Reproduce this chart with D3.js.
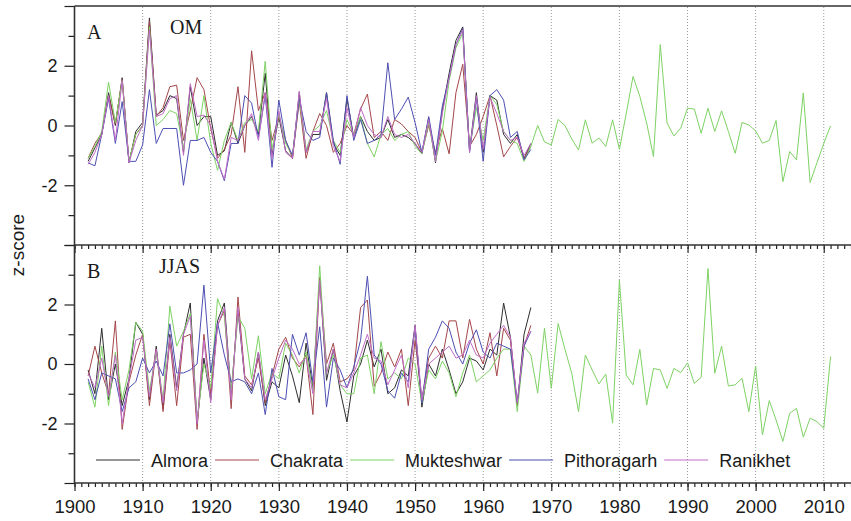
<!DOCTYPE html>
<html>
<head>
<meta charset="utf-8">
<script src="https://cdn.jsdelivr.net/npm/d3@7"></script>
<style>
  body { margin: 0; background: #fff; }
  text { font-family: Arial, "Liberation Sans", sans-serif; fill: #1a1a1a; }
  .panel-label { font-family: "Times New Roman", "Liberation Serif", serif; }
</style>
</head>
<body>
<svg id="svg1" width="851" height="521"></svg>
<script>
// station names + colours (legend order)
const stations = ['Almora', 'Chakrata', 'Mukteshwar', 'Pithoragarh', 'Ranikhet'];
const colors = ['#2e2e2e', '#a4464a', '#7ed264', '#4d4fb2', '#c06cc8'];

// years: most stations 1902-1967, Mukteshwar runs on to 2011
const years = d3.range(1902, 1968);
const mukYears = d3.range(1902, 2012);

// panel A - OM z-scores
const almoraOM = [-1.2, -0.75, -0.3, 1.1, 0.0, 1.6, -1.25, -0.2, 0.1, 3.6,
  0.35, 0.5, 1.0, 0.9, -0.9, 1.3, 0.0, 0.3, 0.3, -1.0,
  -0.85, 0.1, -0.6, 0.0, 0.3, -0.3, 1.75, -1.0, 0.3, -0.85,
  -1.1, 1.1, -0.9, -0.3, -0.3, 1.1, -0.6, -1.0, 0.9, -0.4,
  0.3, -0.2, -0.5, -0.4, 0.2, -0.4, -0.3, -0.4, -0.6, -0.95,
  0.25, -1.25, 0.5, 1.75, 2.85, 3.3, -0.85, 1.1, -0.9, 1.0,
  0.85, -0.3, -0.6, -0.3, -1.1, -0.6];
const chakrataOM = [-1.1, -0.6, -0.25, 1.0, 0.05, 1.55, -1.2, -0.3, 0.0, 3.5,
  0.3, 0.6, 1.3, 1.35, -0.5, 0.5, 1.6, 1.2, -0.1, -1.1,
  -0.8, -0.3, 1.3, -0.9, 2.5, 0.5, 1.1, -0.5, 0.3, -0.5,
  -1.1, 0.8, -1.1, -0.2, 0.4, 0.0, -0.9, -0.6, 0.0, -0.3,
  0.55, 1.05, -0.4, -0.2, -0.5, 0.2, 0.05, -0.2, -0.4, -0.9,
  0.0, -0.9, -0.1, -0.95, 1.1, 2.05, -0.7, -0.3, 0.3, 1.0,
  0.0, -1.05, -0.7, -0.4, -1.1, -0.7];
const mukteshwarOM = [-1.1, -0.7, -0.2, 1.45, 0.1, 1.5, -1.2, -0.3, 0.0, 3.3,
  0.0, 0.2, 0.5, 0.4, -0.8, 0.9, -0.5, 1.0, -0.6, -1.5,
  -0.5, 0.1, -0.5, 0.1, 0.2, -0.2, 2.15, -0.8, 0.4, -0.6,
  -1.0, 0.9, -0.8, -0.2, 0.0, 0.5, -0.5, -0.9, 0.2, -0.3,
  0.3, -0.6, -1.05, -0.3, -0.1, -0.5, -0.3, -0.2, -0.7, -0.95,
  0.1, -1.2, -0.2, 1.5, 2.6, 3.1, -0.8, 0.6, -0.5, 1.0,
  0.7, -0.2, -0.5, -0.6, -1.2, -0.7,
  0.0, -0.55, -0.65, 0.2, 0.0, -0.45, -0.82, 0.19, -0.59, -0.42,
  -0.7, 0.19, -0.8, 0.4, 1.64, 0.97, 0.08, -1.04, 2.71, 0.08,
  -0.35, -0.09, 0.58, 0.55, -0.26, 0.58, -0.2, 0.49, -0.2, -0.93,
  0.1, 0.02, -0.18, -0.59, -0.5, 0.17, -1.88, -0.87, -1.15, 1.09,
  -1.91, -1.25, -0.6, -0.01];
const pithoragarhOM = [-1.25, -1.35, -0.3, 0.9, -0.6, 0.8, -1.2, -1.2, -0.65, 1.2,
  -0.6, -0.1, -0.1, -0.1, -2.0, -0.5, -0.5, -0.4, -0.9, -1.2,
  -1.85, -0.6, -0.6, 1.0, 0.75, -0.4, 1.0, -1.4, 0.85, -0.5,
  -1.0, 0.9, -0.2, -0.5, -0.4, 1.1, -0.5, -1.3, 1.0, -0.5,
  0.2, -0.6, -0.5, -0.3, 2.1, 0.2, 0.55, 0.95, 0.1, -0.9,
  0.3, -1.0, 0.65, 1.6, 2.7, 3.25, -0.9, 0.9, -1.2, 1.0,
  1.2, 0.85, -0.4, -0.2, -1.15, -0.8];
const ranikhetOM = [-1.3, -0.9, -0.3, 1.0, -0.5, 1.5, -1.25, -0.5, 0.0, 3.2,
  0.3, 0.4, 0.9, 1.0, -1.0, 1.4, 0.3, 0.35, 0.0, -1.2,
  -1.8, -0.4, -0.5, 0.0, 0.4, -0.5, 1.1, -1.1, 0.5, -0.9,
  -1.1, 1.15, -0.9, -0.2, -0.2, 0.9, -0.7, -1.2, 0.6, -0.4,
  0.6, 0.0, -0.3, -0.4, 0.3, -0.3, -0.4, -0.3, -0.6, -0.9,
  0.2, -1.2, 0.4, 1.6, 2.7, 3.2, -0.9, 1.0, -0.8, 0.95,
  0.4, -0.2, -0.5, -0.4, -1.0, -0.6];

// panel B - JJAS z-scores
const almoraJJAS = [-0.2, -1.0, 1.2, -1.2, 0.0, -1.4, -0.5, 1.4, 1.0, -1.2,
  0.6, -1.5, 1.0, -0.8, 1.0, 2.05, -2.0, 0.2, -1.2, 1.45,
  2.05, -1.0, 1.8, -0.5, -0.9, 0.4, -1.4, -0.6, -0.8, 0.3,
  -0.4, -1.3, 0.7, -0.8, 2.9, -0.55, 0.5, -0.9, -1.95, -0.4,
  0.0, 0.8, -0.1, 0.5, -1.0, -0.8, -0.2, -0.4, 1.3, -1.45,
  0.0, -0.4, 0.5, -0.2, -1.0, -0.6, 0.2, 0.1, -0.2, 0.5,
  0.3, 2.05, 0.9, -1.4, 1.0, 1.9];
const chakrataJJAS = [-0.4, 0.6, -0.3, -1.0, 1.45, -2.2, -0.6, 0.3, 1.0, -1.4,
  0.5, -1.6, 0.8, -1.4, 0.9, 1.0, -2.2, 1.0, -1.0, 1.3,
  1.8, -1.5, 2.25, -0.4, -0.7, 0.2, -1.3, -0.4, 0.5, 0.9,
  0.2, -0.1, 0.3, -1.7, 2.9, 0.0, 0.7, -0.6, -0.5, -0.2,
  1.9, 2.15, -0.75, -0.3, 0.4, -0.1, 0.5, -1.4, 0.8, -1.2,
  0.2, 0.6, 0.2, 1.45, 1.45, 0.2, 1.5, 0.5, 0.0, 1.05,
  -0.4, 1.2, 0.8, -1.4, 0.6, 1.3];
const mukteshwarJJAS = [-0.6, -1.45, 0.6, -1.4, 0.4, -1.2, -0.2, 1.4, 1.1, -0.9,
  0.4, -1.2, 1.95, 0.6, 1.1, 1.7, -1.9, 0.0, -0.8, 2.2,
  1.6, -0.9, 1.6, 1.2, -0.5, 0.95, -1.0, -0.3, -0.5, 0.7,
  0.3, -0.3, 0.4, -0.9, 3.3, -0.3, 0.3, -0.7, -1.0, -1.0,
  0.2, 0.3, -1.0, 0.75, -0.5, -0.3, -0.5, 0.2, 0.0, -1.3,
  -0.2, -0.5, 0.1, -0.3, -1.1, -0.3, 0.3, -0.6, -0.4, -0.2,
  0.2, 0.5, 0.5, -1.6, 0.6, 0.3,
  -0.98, 1.2, -0.82, 1.36, 0.5, -0.31, -1.6, 0.3, -0.2, -0.67,
  -0.34, -1.99, 2.82, -0.37, -0.7, 0.49, -1.38, -0.15, -0.2, -0.82,
  -0.15, -0.29, 0.04, -0.65, -0.45, 3.21, -0.31, 0.6, -0.74, -0.7,
  -0.48, -1.6, -0.07, -2.38, -1.23, -1.88, -2.6, -1.66, -1.49, -2.46,
  -1.82, -1.94, -2.16, 0.25];
const pithoragarhJJAS = [-0.5, -1.2, -0.3, -0.4, -0.5, -1.6, -0.8, -0.6, 0.2, -0.3,
  0.1, -0.4, 1.35, -0.3, -0.3, -0.2, 0.0, 2.65, -0.3, 1.4,
  0.3, -0.6, -0.5, -0.6, -1.0, -0.3, -1.7, -0.15, -1.1, -1.2,
  1.0, 0.3, 1.05, -0.6, 1.25, -1.45, 0.2, -0.2, -0.8, -0.1,
  0.8, 2.95, 0.3, 0.0, -0.9, -1.15, -0.3, -0.6, 1.2, -1.3,
  0.5, 0.9, 1.45, 1.2, 0.4, 0.0, 0.7, 1.15, 0.4, 0.2,
  0.7, 0.6, 0.5, -1.3, 0.6, 1.1];
const ranikhetJJAS = [-0.3, -0.8, 0.2, -1.1, 0.3, -2.0, -0.5, 0.8, 0.9, -1.1,
  0.5, -1.3, 0.9, -0.9, 1.0, 1.6, -2.0, 0.8, -1.3, 1.3,
  1.9, -1.2, 1.9, -0.5, -0.8, 0.4, -1.2, -0.5, 0.2, 0.8,
  0.5, 0.0, 0.2, -1.0, 2.8, -0.3, 0.5, -0.7, -0.8, -0.3,
  0.3, 1.0, 0.2, 0.1, -0.7, -0.2, 0.3, -0.8, 1.3, -1.2,
  0.0, 0.2, 0.4, 0.6, 0.2, 0.3, 0.8, 0.3, 0.2, 0.7,
  1.0, 1.3, 0.9, -1.3, 0.7, 1.1];

// axis ticks
const majorYears = d3.range(1900, 2011, 10);
const minorYears = d3.range(1900, 2015, 1);
const yMajor = [-4, -2, 0, 2, 4];
const yMinor = [-3, -1, 1, 3];
const yLabelled = [-2, 0, 2];

const svg = d3.select('#svg1');
const width = +svg.attr('width');

const plotLeft = 74.5;
const plotTop = 6;
const plotMid = 245;
const plotBottom = 483;

const x = d3.scaleLinear().domain([1900, 2014]).range([plotLeft, width]);

const panels = [
  { label: 'A', season: 'OM', seasonX: 170, top: plotTop, bottom: plotMid,
    series: [almoraOM, chakrataOM, mukteshwarOM, pithoragarhOM, ranikhetOM] },
  { label: 'B', season: 'JJAS', seasonX: 159, top: plotMid, bottom: plotBottom,
    series: [almoraJJAS, chakrataJJAS, mukteshwarJJAS, pithoragarhJJAS, ranikhetJJAS] }
];

panels.forEach(p => {
  const y = d3.scaleLinear().domain([-4, 4]).range([p.bottom, p.top]);
  const g = svg.append('g');

  // dotted decade grid
  g.selectAll('line.grid').data(majorYears.slice(1)).enter().append('line')
    .attr('x1', d => x(d)).attr('x2', d => x(d))
    .attr('y1', p.top + 1).attr('y2', p.bottom)
    .attr('stroke', '#999').attr('stroke-width', 1)
    .attr('stroke-dasharray', '1,2');

  // lines, Mukteshwar is the long one
  const line = d3.line().x(d => x(d[0])).y(d => y(d[1]));
  p.series.forEach((vals, i) => {
    const yrs = vals.length > years.length ? mukYears : years;
    g.append('path')
      .datum(vals.map((v, k) => [yrs[k], v]))
      .attr('fill', 'none')
      .attr('stroke', colors[i])
      .attr('stroke-width', 1)
      .attr('d', line);
  });

  // y ticks
  const yMinorG = g.append('g')
    .attr('transform', `translate(${plotLeft},0)`)
    .call(d3.axisLeft(y).tickValues(yMinor).tickSize(6).tickFormat(''));
  const yMajorG = g.append('g')
    .attr('transform', `translate(${plotLeft},0)`)
    .call(d3.axisLeft(y).tickValues(yMajor).tickSize(10).tickPadding(7)
      .tickFormat(d => yLabelled.includes(d) ? String(d) : ''));
  [yMinorG, yMajorG].forEach(a => {
    a.select('.domain').remove();
    a.selectAll('line').attr('stroke', '#222').attr('stroke-width', 1.2);
  });
  yMajorG.selectAll('text').style('font-size', '18px').attr('fill', '#1a1a1a');

  // x ticks along the bottom of each panel
  const xMinorG = g.append('g')
    .attr('transform', `translate(0,${p.bottom})`)
    .call(d3.axisBottom(x).tickValues(minorYears).tickSize(4).tickFormat(''));
  const xMajorG = g.append('g')
    .attr('transform', `translate(0,${p.bottom})`)
    .call(d3.axisBottom(x).tickValues(majorYears).tickSize(8).tickPadding(9)
      .tickFormat(p.label === 'B' ? d3.format('d') : ''));
  [xMinorG, xMajorG].forEach(a => {
    a.select('.domain').remove();
    a.selectAll('line').attr('stroke', '#222').attr('stroke-width', 1.2);
  });
  xMajorG.selectAll('text').style('font-size', '18.5px').attr('fill', '#1a1a1a');

  // panel letter + season
  g.append('text').attr('class', 'panel-label')
    .attr('x', 87).attr('y', p.top + 33)
    .style('font-size', '20px').text(p.label);
  g.append('text').attr('class', 'panel-label')
    .attr('x', p.seasonX).attr('y', p.top + 28)
    .style('font-size', '20px').text(p.season);
});

// frame
const frame = svg.append('g').attr('stroke', '#333').attr('stroke-width', 1.6);
frame.append('line').attr('x1', plotLeft).attr('x2', width).attr('y1', plotTop).attr('y2', plotTop);
frame.append('line').attr('x1', plotLeft).attr('x2', width).attr('y1', plotMid).attr('y2', plotMid);
frame.append('line').attr('x1', plotLeft).attr('x2', width).attr('y1', plotBottom).attr('y2', plotBottom);
frame.append('line').attr('x1', plotLeft).attr('x2', plotLeft).attr('y1', plotTop).attr('y2', plotBottom);

// y axis title
svg.append('text')
  .attr('transform', `translate(24,${plotMid}) rotate(-90)`)
  .attr('text-anchor', 'middle')
  .style('font-size', '19px')
  .text('z-score');

// legend: line then name, laid out left to right
const legend = svg.append('g').attr('transform', 'translate(96,460)');
let lx = 0;
stations.forEach((s, i) => {
  legend.append('line')
    .attr('x1', lx).attr('x2', lx + 44).attr('y1', 0).attr('y2', 0)
    .attr('stroke', colors[i]).attr('stroke-width', 1);
  const t = legend.append('text')
    .attr('x', lx + 55).attr('y', 6.5)
    .style('font-size', '18px')
    .text(s);
  lx += 55 + t.node().getComputedTextLength() + 7;
});
</script>
</body>
</html>
